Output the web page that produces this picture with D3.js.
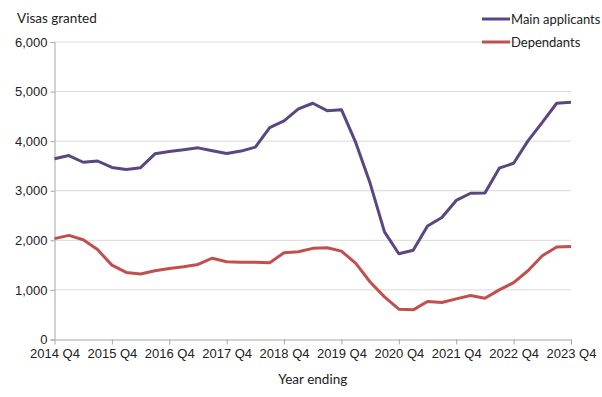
<!DOCTYPE html>
<html>
<head>
<meta charset="utf-8">
<script src="https://cdn.jsdelivr.net/npm/d3@7"></script>
<style>
  body { margin: 0; background: #fff; }
  svg { font-family: Lato, "Open Sans", sans-serif; }
</style>
</head>
<body>
<svg width="602" height="397"></svg>
<script>
// quarters from 2014 Q4 to 2023 Q4
const quarters = [];
for (let yr = 2014; yr <= 2023; yr++) {
  for (let q = 1; q <= 4; q++) {
    if (yr === 2014 && q < 4) continue;
    quarters.push(yr + " Q" + q);
  }
}
const yearTicks = quarters.filter((d) => d.endsWith("Q4"));

const mainApplicants = [
  3645, 3710, 3575, 3600, 3470, 3430, 3465, 3745, 3790, 3825, 3865, 3805,
  3750, 3800, 3880, 4275, 4410, 4650, 4765, 4615, 4635, 3970, 3150, 2170,
  1730, 1800, 2290, 2460, 2805, 2950, 2955, 3455, 3555, 4005, 4380, 4765, 4785
];
const dependants = [
  2035, 2100, 2013, 1813, 1500, 1353, 1320, 1387, 1433, 1467, 1513, 1640,
  1567, 1560, 1560, 1548, 1750, 1770, 1838, 1850, 1783, 1535, 1160, 860,
  612, 598, 765, 745, 820, 887, 833, 1000, 1147, 1387, 1690, 1867, 1875
];
const yTicks = [0, 1000, 2000, 3000, 4000, 5000, 6000];

const series = [
  { name: "Main applicants", values: mainApplicants, color: "#5a4680" },
  { name: "Dependants", values: dependants, color: "#c0504d" }
];

const svg = d3.select("svg");
const plotLeft = 54.5, plotRight = 571, plotTop = 42, plotBottom = 339.5;

const x = d3.scalePoint().domain(quarters).range([plotLeft, plotRight]);
const y = d3.scaleLinear().domain([0, 6000]).range([plotBottom, plotTop]);

// gridlines
svg.append("g")
  .selectAll("line")
  .data(yTicks.filter((d) => d > 0))
  .join("line")
  .attr("x1", plotLeft)
  .attr("x2", plotRight)
  .attr("y1", (d) => y(d))
  .attr("y2", (d) => y(d))
  .attr("stroke", "#d9d9d9")
  .attr("stroke-width", 1);

// y axis
const yAxis = svg.append("g")
  .attr("transform", `translate(${plotLeft},0)`)
  .call(d3.axisLeft(y).tickValues(yTicks).tickSize(4).tickPadding(3)
    .tickFormat(d3.format(",")));
yAxis.select(".domain").attr("stroke", "#a6a6a6");
yAxis.selectAll(".tick line").attr("stroke", "#a6a6a6");
yAxis.selectAll("text").attr("font-size", 13).attr("fill", "#222");

// x axis
const xAxis = svg.append("g")
  .attr("transform", `translate(0,${plotBottom})`)
  .call(d3.axisBottom(x).tickValues(yearTicks).tickSize(5).tickPadding(4).tickSizeOuter(0));
xAxis.select(".domain").attr("stroke", "#a6a6a6");
xAxis.selectAll(".tick line").attr("stroke", "#a6a6a6");
xAxis.selectAll("text").attr("font-size", 13).attr("fill", "#222");

// lines
const line = d3.line()
  .x((d, i) => x(quarters[i]))
  .y((d) => y(d));

svg.append("g")
  .selectAll("path")
  .data(series)
  .join("path")
  .attr("d", (d) => line(d.values))
  .attr("fill", "none")
  .attr("stroke", (d) => d.color)
  .attr("stroke-width", 3)
  .attr("stroke-linejoin", "round");

// titles
svg.append("text")
  .attr("x", 17)
  .attr("y", 23)
  .attr("font-size", 13.5)
  .attr("fill", "#222")
  .text("Visas granted");

svg.append("text")
  .attr("x", (plotLeft + plotRight) / 2)
  .attr("y", 384)
  .attr("text-anchor", "middle")
  .attr("font-size", 13.5)
  .attr("fill", "#222")
  .text("Year ending");

// legend
const legend = svg.append("g")
  .selectAll("g")
  .data(series)
  .join("g")
  .attr("transform", (d, i) => `translate(482,${19 + i * 23})`);
legend.append("line")
  .attr("x1", 0)
  .attr("x2", 28)
  .attr("stroke", (d) => d.color)
  .attr("stroke-width", 3);
legend.append("text")
  .attr("x", 29)
  .attr("y", 4.5)
  .attr("font-size", 13)
  .attr("fill", "#222")
  .text((d) => d.name);
</script>
</body>
</html>
